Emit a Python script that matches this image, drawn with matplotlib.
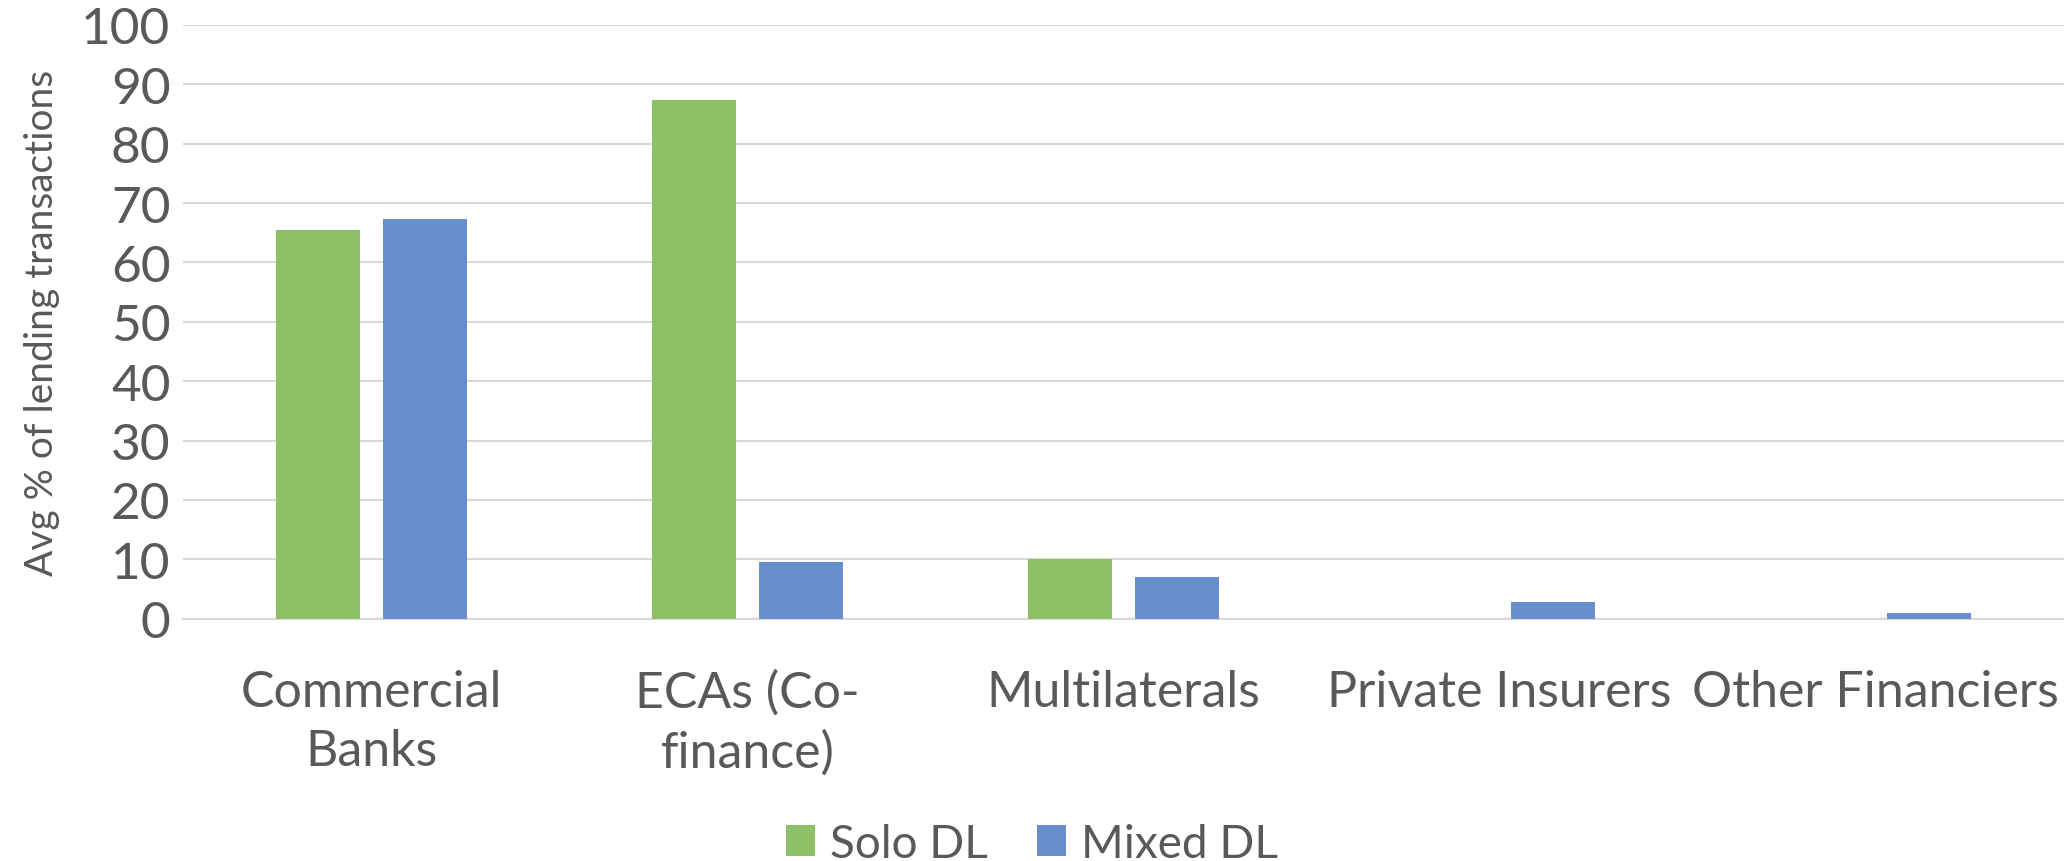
import numpy as np
import matplotlib.pyplot as plt

categories = ["Commercial\nBanks", "ECAs (Co-\nfinance)", "Multilaterals",
              "Private Insurers", "Other Financiers"]
solo_dl = [65.5, 87.3, 10.0, 0, 0]
mixed_dl = [67.3, 9.6, 7.0, 2.9, 1.0]
yticks = [0, 10, 20, 30, 40, 50, 60, 70, 80, 90, 100]

plt.rcParams['font.family'] = ['Lato', 'DejaVu Sans']
txt = '#595959'

fig = plt.figure(figsize=(20.64, 8.62), dpi=100)
ax = fig.add_axes([0.0887, 0.281, 0.9113, 0.689])

x = np.arange(len(categories))
w = 0.223
ax.bar(x - 0.142, solo_dl, w, color='#8CC168', label='Solo DL', zorder=3)
ax.bar(x + 0.142, mixed_dl, w, color='#698ECE', label='Mixed DL', zorder=3)

ax.set_xlim(-0.5, len(categories) - 0.5)
ax.set_ylim(0, 100)
ax.set_yticks(yticks)
ax.yaxis.grid(True, color='#D9D9D9', linewidth=1.5, zorder=0)
ax.set_axisbelow(True)
for s in ax.spines.values():
    s.set_visible(False)
ax.tick_params(axis='y', length=0, pad=9, labelsize=37, labelcolor=txt)
ax.tick_params(axis='x', length=0, pad=36, labelsize=36, labelcolor=txt)
ax.set_xticks(x)
ax.set_xticklabels(categories, linespacing=1.35)
ax.set_ylabel("Avg % of lending transactions", fontsize=28, color=txt, labelpad=15)

# baseline drawn as grid line too
ax.axhline(0, color='#D9D9D9', linewidth=1.5, zorder=1, clip_on=False)

leg = fig.legend(loc='center', bbox_to_anchor=(0.5, 0.02), ncol=2, frameon=False,
                 fontsize=33, handlelength=0.65, handleheight=0.65, handletextpad=0.33,
                 columnspacing=1.05, labelcolor=txt)

fig.savefig('out.png', dpi=100)
